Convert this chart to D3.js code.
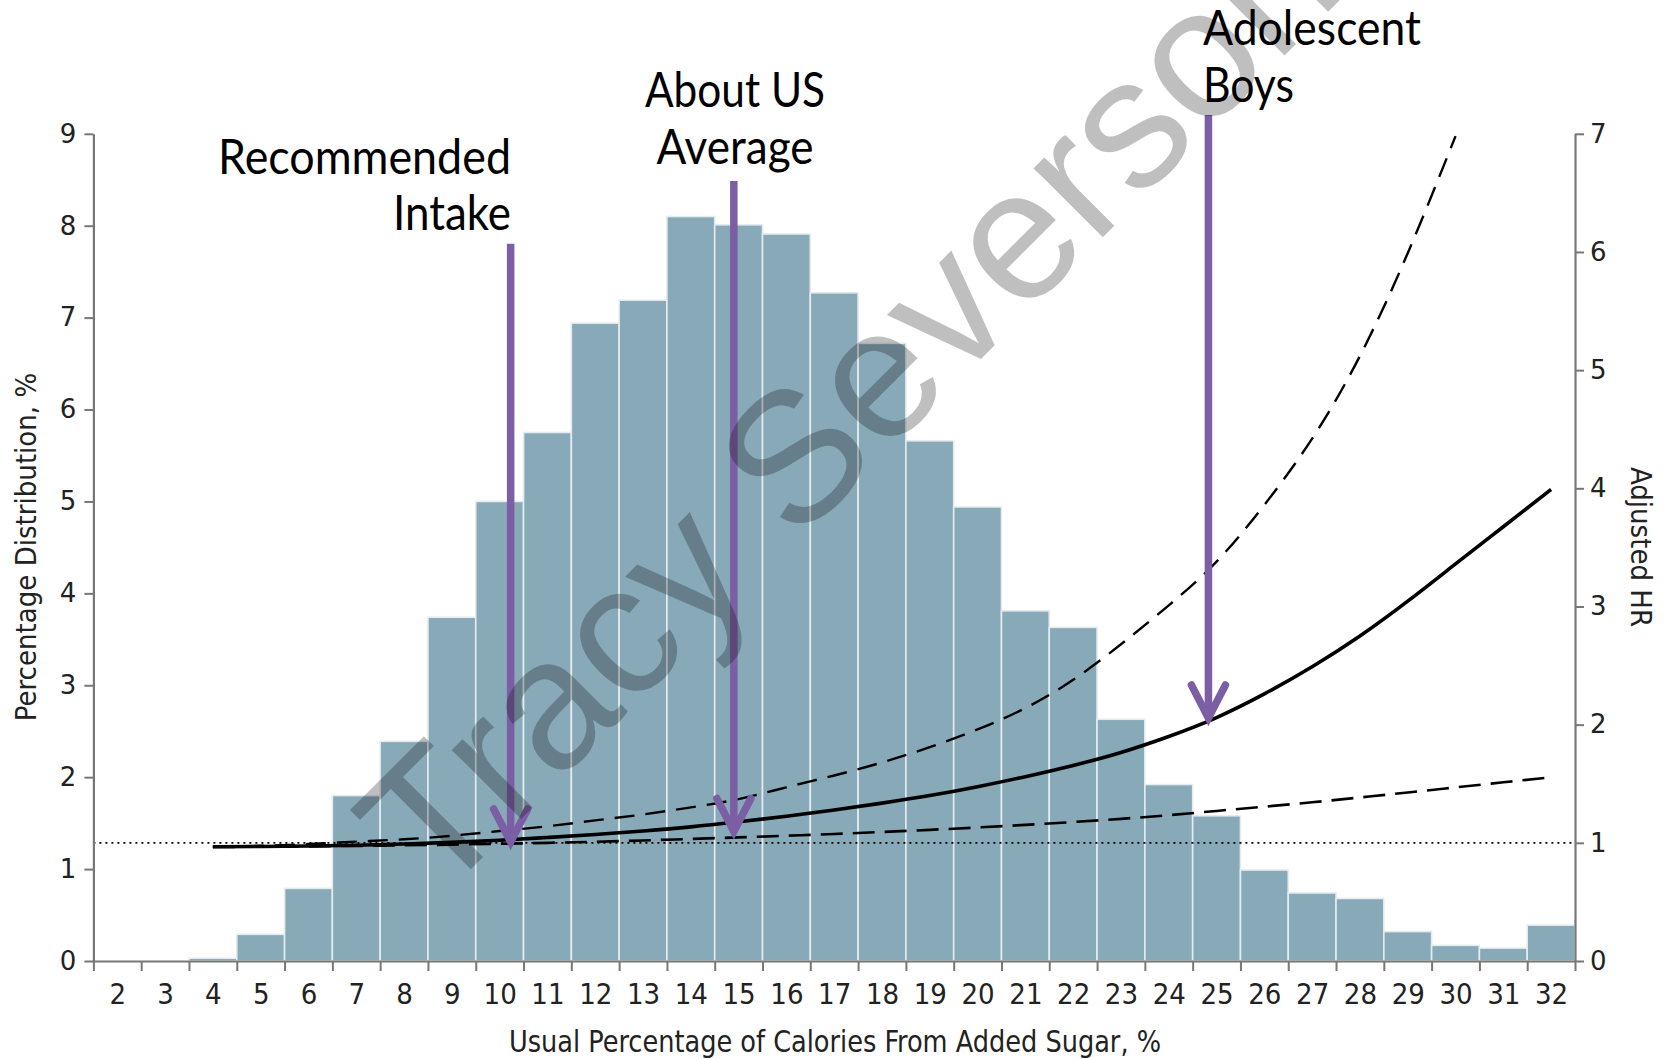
<!DOCTYPE html>
<html>
<head>
<meta charset="utf-8">
<script src="https://cdn.jsdelivr.net/npm/d3@7"></script>
<style>
  html, body { margin: 0; padding: 0; background: #fff; }
  svg { display: block; }
</style>
</head>
<body>
<svg id="chart" width="1665" height="1059"></svg>
<script>
// ---------------- data ----------------
const categories = [2,3,4,5,6,7,8,9,10,11,12,13,14,15,16,17,18,19,20,21,22,23,24,25,26,27,28,29,30,31,32];
const distribution = [0,0,0.03,0.29,0.79,1.80,2.39,3.74,5.00,5.75,6.94,7.19,8.10,8.01,7.91,7.27,6.72,5.66,4.94,3.81,3.63,2.63,1.92,1.58,0.99,0.74,0.68,0.32,0.17,0.14,0.39];

const hrX = [4,5,6,7,8,9,10,11,12,13,14,15,16,17,18,19,20,21,22,23,24,25,26,27,28,29,30,31,32];
const hrEstimate = [0.967,0.969,0.973,0.980,0.990,1.004,1.022,1.045,1.070,1.100,1.135,1.178,1.225,1.278,1.336,1.400,1.475,1.560,1.655,1.765,1.900,2.060,2.260,2.490,2.750,3.045,3.360,3.675,3.990];
const hrLower = [0.965,0.967,0.970,0.974,0.979,0.985,0.992,1.000,1.009,1.020,1.033,1.046,1.060,1.075,1.092,1.110,1.130,1.152,1.176,1.203,1.234,1.270,1.306,1.343,1.384,1.426,1.469,1.512,1.555];
const upperX = [4,5,6,7,8,9,10,11,12,13,14,15,16,17,18,19,20,21,22,23,24,25,26,27,28,29,30];
const hrUpper = [0.967,0.975,0.99,1.01,1.03,1.06,1.10,1.14,1.19,1.24,1.30,1.37,1.47,1.57,1.68,1.81,1.96,2.14,2.38,2.68,3.01,3.38,3.86,4.42,5.12,5.99,6.98];

const leftTicks = [0,1,2,3,4,5,6,7,8,9];
const rightTicks = [0,1,2,3,4,5,6,7];
const binEdges = [1.5,2.5,3.5,4.5,5.5,6.5,7.5,8.5,9.5,10.5,11.5,12.5,13.5,14.5,15.5,16.5,17.5,18.5,19.5,20.5,21.5,22.5,23.5,24.5,25.5,26.5,27.5,28.5,29.5,30.5,31.5,32.5];

const annotations = [
  { lines: ["Recommended", "Intake"], x: 10.23, tipHR: 1.007, topHR: 6.07 },
  { lines: ["About US", "Average"], x: 14.9, tipHR: 1.096, topHR: 6.60 },
  { lines: ["Adolescent", "Boys"], x: 24.83, tipHR: 2.056, topHR: 7.16 }
];

const xTitle = "Usual Percentage of Calories From Added Sugar, %";
const yLeftTitle = "Percentage Distribution, %";
const yRightTitle = "Adjusted HR";
const watermark = "Tracy Severson";

// ---------------- layout ----------------
const svg = d3.select("#chart");
const x = d3.scaleLinear().domain([1.5, 32.5]).range([93.4, 1575]);
const yL = d3.scaleLinear().domain([0, 9]).range([961, 133.8]);
const yR = d3.scaleLinear().domain([0, 7]).range([961, 133.8]);

const barColor = "#87a9b8";
const axisColor = "#777";
const purple = "#7b5ea3";
const narrow = "'Liberation Sans Narrow', 'DejaVu Sans Condensed', 'Roboto', sans-serif";

// bars
svg.append("g").selectAll("rect")
  .data(categories.map((c, i) => ({ c, v: distribution[i] })).filter(d => d.v > 0))
  .join("rect")
  .attr("x", d => x(d.c - 0.5))
  .attr("width", d => x(d.c + 0.5) - x(d.c - 0.5))
  .attr("y", d => yL(d.v))
  .attr("height", d => yL(0) - yL(d.v))
  .attr("fill", barColor)
  .attr("stroke", "#e4ecf0")
  .attr("stroke-width", 1.6);

// dotted reference line HR = 1
svg.append("line")
  .attr("x1", x(1.5)).attr("x2", x(32.5))
  .attr("y1", yR(1)).attr("y2", yR(1))
  .attr("stroke", "#000").attr("stroke-width", 1.6)
  .attr("stroke-dasharray", "2,4");

// curves
const line = (xs) => d3.line().x((d, i) => x(xs[i])).y(d => yR(d)).curve(d3.curveNatural);
svg.append("path").attr("d", line(hrX)(hrLower))
  .attr("fill", "none").attr("stroke", "#000").attr("stroke-width", 2.6)
  .attr("stroke-dasharray", "22,10");
svg.append("path").attr("d", line(upperX)(hrUpper))
  .attr("fill", "none").attr("stroke", "#000").attr("stroke-width", 2.4)
  .attr("stroke-dasharray", "20,11");
svg.append("path").attr("d", line(hrX)(hrEstimate))
  .attr("fill", "none").attr("stroke", "#000").attr("stroke-width", 3.6);

// axes
function styleAxis(g) {
  g.selectAll(".domain").attr("stroke", axisColor).attr("stroke-width", 2.2);
  g.selectAll(".tick line").attr("stroke", axisColor).attr("stroke-width", 2);
}
const gL = svg.append("g").attr("transform", `translate(${x(1.5)},0)`)
  .call(d3.axisLeft(yL).tickValues(leftTicks).tickSize(9).tickSizeOuter(0).tickPadding(8).tickFormat(d3.format("d")));
styleAxis(gL);
gL.selectAll("text").attr("font-family", "'DejaVu Sans', sans-serif").attr("font-size", 26).attr("fill", "#222");

const gR = svg.append("g").attr("transform", `translate(${x(32.5)},0)`)
  .call(d3.axisRight(yR).tickValues(rightTicks).tickSize(9).tickSizeOuter(0).tickPadding(6).tickFormat(d3.format("d")));
styleAxis(gR);
gR.selectAll("text").attr("font-family", "'DejaVu Sans', sans-serif").attr("font-size", 26).attr("fill", "#222");

const gB = svg.append("g").attr("transform", `translate(0,${yL(0)})`)
  .call(d3.axisBottom(x).tickValues(binEdges).tickSize(10).tickSizeOuter(0).tickFormat(""));
styleAxis(gB);
const gBL = svg.append("g").attr("transform", `translate(0,${yL(0)})`)
  .call(d3.axisBottom(x).tickValues(categories).tickSize(0).tickPadding(22).tickFormat(d3.format("d")));
gBL.select(".domain").remove();
gBL.selectAll("text").attr("font-family", narrow).attr("font-size", 29).attr("fill", "#222");

// axis titles
svg.append("text").text(xTitle)
  .attr("x", 835).attr("y", 1052).attr("text-anchor", "middle")
  .attr("textLength", 652).attr("lengthAdjust", "spacingAndGlyphs")
  .attr("font-family", narrow).attr("font-size", 30).attr("fill", "#222");
svg.append("text").text(yLeftTitle)
  .attr("transform", "translate(36,547) rotate(-90)").attr("text-anchor", "middle")
  .attr("font-family", narrow).attr("font-size", 29).attr("fill", "#222");
svg.append("text").text(yRightTitle)
  .attr("transform", "translate(1631,547) rotate(90)").attr("text-anchor", "middle")
  .attr("font-family", narrow).attr("font-size", 29).attr("fill", "#222");

// annotation arrows
const gA = svg.append("g");
annotations.forEach(a => {
  const ax = x(a.x), tip = yR(a.tipHR), top = yR(a.topHR);
  gA.append("line").attr("x1", ax).attr("x2", ax).attr("y1", top).attr("y2", tip - 3)
    .attr("stroke", purple).attr("stroke-width", 7.5);
  gA.append("path")
    .attr("d", `M${ax - 17},${tip - 33} L${ax},${tip} L${ax + 17},${tip - 33}`)
    .attr("fill", "none").attr("stroke", purple).attr("stroke-width", 7.5)
    .attr("stroke-linecap", "round").attr("stroke-linejoin", "miter");
});

// annotation texts
const annFont = "Lato, 'Open Sans', sans-serif";
const annText = [
  { t: "Recommended", x: 511, y: 174, anchor: "end", w: 293 },
  { t: "Intake", x: 511, y: 230, anchor: "end", w: 118 },
  { t: "About US", x: 735, y: 107, anchor: "middle", w: 180 },
  { t: "Average", x: 735, y: 164, anchor: "middle", w: 157 },
  { t: "Adolescent", x: 1203, y: 45, anchor: "start", w: 218 },
  { t: "Boys", x: 1203, y: 102, anchor: "start", w: 91 }
];
svg.append("g").selectAll("text").data(annText).join("text")
  .text(d => d.t)
  .attr("x", d => d.x).attr("y", d => d.y)
  .attr("text-anchor", d => d.anchor)
  .attr("textLength", d => d.w).attr("lengthAdjust", "spacingAndGlyphs")
  .attr("font-family", annFont).attr("font-size", 49).attr("fill", "#000");

// watermark
svg.append("text").text(watermark)
  .attr("transform", "translate(437,903) rotate(-45)")
  .attr("font-family", "'Liberation Sans', Arial, sans-serif")
  .attr("font-size", 185)
  .attr("fill", "#000").attr("fill-opacity", 0.25);
</script>
</body>
</html>
